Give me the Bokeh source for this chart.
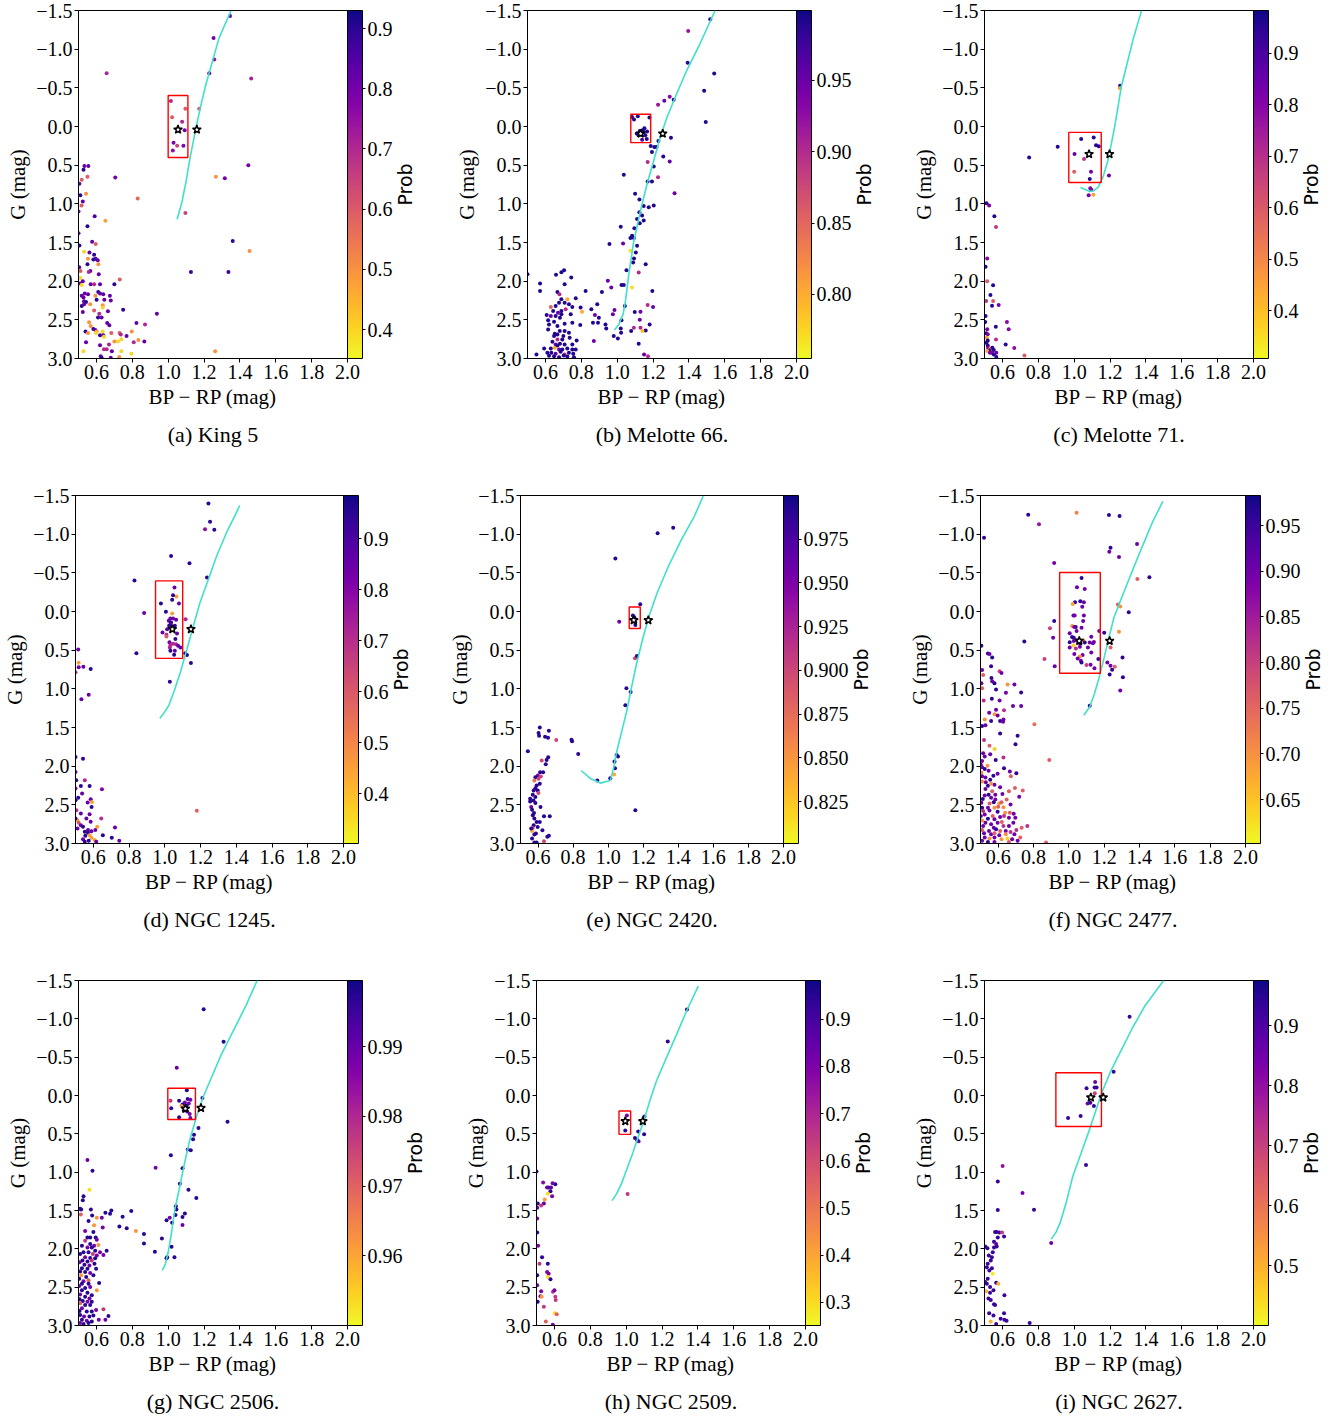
import math
from bokeh.plotting import figure
from bokeh.models import (ColumnDataSource, LinearColorMapper, ColorBar, FixedTicker,
                          PrintfTickFormatter, Range1d, Title)
from bokeh.core.properties import value
from bokeh.layouts import row, column
from bokeh.palettes import Plasma256
from bokeh.transform import transform
from bokeh.embed import file_html
from bokeh.resources import INLINE

# ---------------- data (BP-RP, G, membership probability) ----------------
X_TICKS = [0.6, 0.8, 1.0, 1.2, 1.4, 1.6, 1.8, 2.0]
Y_TICKS = [-1.5, -1.0, -0.5, 0.0, 0.5, 1.0, 1.5, 2.0, 2.5, 3.0]

# (a) King 5
king5_pts = [
    (1.345, -1.43, .80), (1.253, -1.146, .80), (1.257, -0.866, .75), (1.229, -0.69, .80), (0.657, -0.69, .70),
    (1.463, -0.62, .72), (1.015, -0.33, .70), (1.096, -0.23, .60), (1.173, -0.23, .60), (1.022, -0.12, .60),
    (1.078, -0.06, .70), (1.053, 0.02, .50), (1.092, 0.05, .80), (1.03, 0.21, .78), (1.085, 0.25, .78),
    (1.05, 0.25, .65), (1.026, 0.31, .75), (1.447, 0.50, .80), (1.266, 0.65, .50), (1.316, 0.67, .80),
    (0.705, 0.66, .80), (0.83, 0.93, .58), (1.096, 1.12, .65), (1.36, 1.48, .90), (1.454, 1.61, .50),
    (1.127, 1.88, .88), (1.336, 1.88, .88), (0.937, 2.42, .82), (1.262, 2.905, .50),
    (0.533, 0.51, .82), (0.555, 0.51, .82), (0.528, 0.56, .9), (0.55, 0.65, .6), (0.518, 0.69, .6),
    (0.505, 0.74, .82), (0.542, 0.87, .5), (0.51, 0.89, .9), (0.524, 0.97, .82), (0.517, 1.02, .6),
    (0.50, 1.10, .82), (0.59, 1.16, .85), (0.65, 1.22, .48), (0.55, 1.29, .9), (0.50, 1.38, .82),
    (0.576, 1.49, .82), (0.596, 1.52, .6), (0.505, 1.54, .9), (0.561, 1.63, .82), (0.531, 1.62, .4),
    (0.587, 1.66, .9), (0.553, 1.71, .5), (0.596, 1.71, .82), (0.607, 1.73, .82), (0.583, 1.72, .9),
    (0.55, 1.78, .9), (0.611, 1.78, .5), (0.504, 1.82, .82), (0.566, 1.87, .82), (0.557, 1.88, .7),
    (0.511, 1.87, .6), (0.613, 1.91, .82), (0.73, 1.98, .6), (0.509, 1.96, .4), (0.524, 2.0, .82),
    (0.509, 2.03, .82), (0.568, 2.04, .82), (0.587, 2.04, .7), (0.518, 2.05, .4), (0.62, 2.04, .82),
    (0.70, 2.04, .9), (0.61, 2.14, .9), (0.535, 2.16, .82), (0.518, 2.19, .82), (0.553, 2.17, .82),
    (0.594, 2.19, .5), (0.62, 2.16, .82), (0.638, 2.17, .82), (0.675, 2.19, .82), (0.528, 2.21, .82),
    (0.601, 2.24, .9), (0.644, 2.24, .82), (0.68, 2.25, .82), (0.531, 2.26, .82), (0.542, 2.27, .9),
    (0.565, 2.30, .5), (0.518, 2.32, .9), (0.531, 2.30, .82), (0.635, 2.31, .5), (0.635, 2.34, .4),
    (0.749, 2.37, .9), (0.587, 2.38, .6), (0.524, 2.40, .82), (0.664, 2.39, .82), (0.616, 2.42, .7),
    (0.609, 2.47, .9), (0.629, 2.47, .82), (0.559, 2.53, .5), (0.66, 2.54, .82), (0.823, 2.54, .82),
    (0.871, 2.56, .7), (0.672, 2.57, .82), (0.568, 2.58, .5), (0.583, 2.62, .9), (0.594, 2.63, .82),
    (0.601, 2.65, .5), (0.539, 2.65, .9), (0.553, 2.67, .5), (0.598, 2.67, .4), (0.635, 2.65, .4),
    (0.683, 2.67, .6), (0.729, 2.67, .6), (0.736, 2.69, .7), (0.797, 2.65, .5), (0.62, 2.70, .9),
    (0.638, 2.70, .82), (0.768, 2.71, .82), (0.642, 2.72, .4), (0.739, 2.75, .4), (0.834, 2.76, .5),
    (0.867, 2.78, .82), (0.542, 2.79, .82), (0.70, 2.78, .5), (0.72, 2.78, .4), (0.808, 2.79, .7),
    (0.67, 2.82, .7), (0.62, 2.83, .82), (0.657, 2.88, .7), (0.642, 2.88, .7), (0.528, 2.905, .4),
    (0.686, 2.905, .82), (0.739, 2.905, .4), (0.795, 2.94, .4), (0.624, 2.97, .82), (0.727, 2.98, .5),
    (0.68, 2.99, .82), (0.629, 2.99, .9),
]
king5_iso_x = [1.05, 1.078, 1.10, 1.122, 1.155, 1.183, 1.21, 1.247, 1.284, 1.349]
king5_iso_y = [1.20, 0.966, 0.707, 0.405, 0.017, -0.28, -0.54, -0.845, -1.146, -1.49]
king5_box = [1.0, 1.11, -0.40, 0.40]
king5_star_x = [1.055, 1.16]
king5_star_y = [0.04, 0.04]

# (b) Melotte 66
mel66_pts = [
    (1.519, -1.387, .99), (1.396, -1.236, .92), (1.393, -0.825, .99), (1.541, -0.686, .99), (1.485, -0.461, .99),
    (1.293, -0.384, .93), (1.315, -0.345, .99), (1.263, -0.332, .95), (1.228, -0.28, .92), (1.494, -0.059, .99),
    (1.083, -0.124, .99), (1.094, -0.089, .99), (1.115, -0.133, .99), (1.18, -0.115, .99), (1.152, 0.023, .99),
    (1.141, 0.049, .99), (1.109, 0.092, .99), (1.119, 0.114, .99), (1.167, 0.066, .99), (1.157, 0.114, .99),
    (1.139, 0.17, .97), (1.165, 0.162, .99), (1.148, 0.07, .99), (1.126, 0.058, .99),
    (1.30, 0.144, .99), (1.187, 0.252, .99), (1.207, 0.265, .99), (1.219, 0.265, .99), (1.23, 0.188, .99),
    (1.194, 0.33, .99), (1.257, 0.387, .99), (1.293, 0.451, .95), (1.17, 0.46, .9), (1.204, 0.516, .99),
    (1.037, 0.625, .99), (1.228, 0.655, .9), (1.17, 0.711, .99), (1.194, 0.711, .99), (1.32, 0.863, .95),
    (1.10, 0.871, .99), (1.124, 0.945, .99), (1.148, 1.027, .99), (1.176, 1.044, .99), (1.204, 1.023, .99),
    (1.124, 1.109, .99), (1.139, 1.152, .99), (1.111, 1.196, .99), (1.148, 1.217, .99), (1.126, 1.252, .99),
    (1.096, 1.317, .99), (1.02, 1.295, .99), (1.083, 1.412, .99), (1.093, 1.442, .99), (1.074, 1.442, .99),
    (1.033, 1.512, .95), (0.957, 1.52, .99), (1.111, 1.542, .99), (1.074, 1.607, .77), (1.104, 1.628, .99),
    (1.094, 1.706, .99), (1.089, 1.758, .99), (1.159, 1.78, .99), (1.052, 1.858, .99), (1.12, 1.888, .9),
    (0.948, 1.996, .95), (1.024, 2.048, .99), (1.037, 2.048, .99), (0.967, 2.083, .95), (1.083, 2.083, .77),
    (1.196, 2.126, .99), (0.915, 2.139, .99), (0.824, 2.126, .99), (0.889, 2.30, .99), (1.043, 2.321, .99),
    (1.17, 2.308, .9), (1.20, 2.334, .95), (0.985, 2.373, .95), (1.098, 2.399, .99), (0.976, 2.429, .95),
    (1.13, 2.394, .95), (0.856, 2.364, .99), (0.876, 2.437, .95), (0.898, 2.472, .99), (0.935, 2.559, .99),
    (0.865, 2.537, .99), (0.893, 2.537, .99), (0.794, 2.567, .99), (1.024, 2.507, .99), (1.126, 2.498, .95),
    (1.181, 2.559, .99), (1.093, 2.602, .9), (1.13, 2.602, .9), (1.02, 2.611, .99), (1.159, 2.637, .99),
    (1.141, 2.645, .79), (1.078, 2.645, .99), (0.939, 2.611, .99), (1.022, 2.667, .99), (0.981, 2.71, .99),
    (1.004, 2.74, .99), (0.870, 2.775, .95), (1.12, 2.81, .99), (1.15, 2.948, .95), (1.172, 2.97, .9),
    (0.5, 1.91, .99), (0.57, 2.03, .99), (0.57, 2.126, .99),
    (0.704, 1.858, .99), (0.689, 1.884, .99), (0.744, 1.953, .99), (0.659, 1.918, .99), (0.707, 2.04, .99),
    (0.667, 2.139, .99), (0.678, 2.169, .9), (0.689, 2.234, .99), (0.676, 2.278, .99), (0.722, 2.234, .8),
    (0.769, 2.221, .99), (0.707, 2.278, .99), (0.731, 2.30, .99), (0.75, 2.334, .99), (0.796, 2.342, .99),
    (0.804, 2.394, .8), (0.63, 2.334, .85), (0.657, 2.321, .99), (0.643, 2.386, .99), (0.67, 2.407, .95),
    (0.689, 2.386, .99), (0.713, 2.364, .9), (0.741, 2.429, .99), (0.607, 2.437, .99), (0.63, 2.45, .95),
    (0.657, 2.45, .99), (0.689, 2.429, .99), (0.681, 2.472, .99), (0.615, 2.507, .99), (0.648, 2.524, .99),
    (0.62, 2.559, .99), (0.615, 2.624, .99), (0.667, 2.58, .99), (0.707, 2.55, .99), (0.75, 2.537, .99),
    (0.68, 2.645, .99), (0.707, 2.645, .99), (0.731, 2.667, .99), (0.667, 2.689, .99), (0.648, 2.71, .99),
    (0.70, 2.71, .99), (0.667, 2.753, .9), (0.694, 2.753, .99), (0.735, 2.732, .99), (0.774, 2.766, .99),
    (0.639, 2.784, .99), (0.657, 2.818, .95), (0.681, 2.81, .99), (0.707, 2.818, .99), (0.75, 2.818, .99),
    (0.593, 2.87, .99), (0.63, 2.87, .99), (0.652, 2.862, .8), (0.676, 2.883, .95), (0.694, 2.883, .99),
    (0.722, 2.87, .99), (0.75, 2.883, .99), (0.611, 2.926, .99), (0.633, 2.926, .99), (0.657, 2.939, .95),
    (0.685, 2.913, .99), (0.707, 2.948, .9), (0.731, 2.926, .99), (0.755, 2.939, .99), (0.55, 2.948, .99),
    (0.648, 2.97, .99), (0.722, 2.974, .99), (0.759, 2.983, .99), (0.676, 2.983, .99), (0.62, 2.965, .99),
    (0.702, 2.96, .99), (0.667, 2.831, .99), (0.769, 2.883, .99), (0.652, 2.68, .99),
]
mel66_iso_x = [0.985, 1.009, 1.033, 1.046, 1.065, 1.093, 1.13, 1.167, 1.204, 1.24, 1.278, 1.333, 1.389, 1.463, 1.546]
mel66_iso_y = [2.63, 2.56, 2.43, 2.26, 1.91, 1.48, 1.09, 0.74, 0.44, 0.14, -0.12, -0.43, -0.73, -1.076, -1.5]
mel66_box = [1.076, 1.187, -0.159, 0.209]
mel66_star_x = [1.131, 1.254]
mel66_star_y = [0.092, 0.092]

# (c) Melotte 71
mel71_pts = [
    (1.256, -0.528, .95), (1.255, -0.494, .45), (1.039, 0.162, .95), (1.109, 0.141, .95), (1.122, 0.244, .95),
    (1.137, 0.257, .95), (0.908, 0.262, .95), (1.002, 0.357, .85), (0.749, 0.40, .95), (1.055, 0.421, .68),
    (1.0, 0.585, .58), (1.094, 0.585, .82), (1.194, 0.633, .85), (1.087, 0.68, .95), (1.09, 0.797, .82),
    (1.096, 0.819, .8), (1.081, 0.888, .82), (1.107, 0.883, .45),
    (0.511, 0.991, .95), (0.526, 1.022, .82), (0.555, 1.16, .95), (0.564, 1.298, .68), (0.515, 1.708, .8),
    (0.506, 1.812, .95), (0.515, 2.0, .6), (0.548, 2.054, .95), (0.533, 2.179, .95), (0.509, 2.256, .7),
    (0.548, 2.256, .6), (0.579, 2.308, .82), (0.542, 2.317, .95), (0.506, 2.451, .95), (0.625, 2.529, .8),
    (0.504, 2.529, .95), (0.563, 2.589, .95), (0.635, 2.623, .8), (0.515, 2.623, .82), (0.509, 2.675, .95),
    (0.518, 2.688, .82), (0.513, 2.731, .45), (0.564, 2.753, .7), (0.518, 2.766, .95), (0.511, 2.796, .95),
    (0.618, 2.818, .95), (0.518, 2.831, .95), (0.666, 2.865, .78), (0.52, 2.861, .82), (0.533, 2.87, .45),
    (0.544, 2.861, .95), (0.528, 2.896, .95), (0.515, 2.904, .45), (0.552, 2.891, .95), (0.541, 2.926, .82),
    (0.566, 2.926, .82), (0.552, 2.948, .95), (0.53, 2.926, .82), (0.723, 2.96, .6), (0.566, 2.982, .95),
]
mel71_iso_x = [1.035, 1.087, 1.109, 1.133, 1.16, 1.188, 1.207, 1.225, 1.244, 1.262, 1.29, 1.327, 1.354, 1.376]
mel71_iso_y = [0.788, 0.84, 0.83, 0.788, 0.659, 0.443, 0.227, 0.011, -0.248, -0.507, -0.766, -1.111, -1.327, -1.5]
mel71_box = [0.97, 1.151, 0.076, 0.724]
mel71_star_x = [1.083, 1.197]
mel71_star_y = [0.357, 0.357]

# (d) NGC 1245
n1245_pts = [
    (1.244, -1.397, .95), (1.253, -1.16, .95), (1.225, -1.062, .78), (1.277, -1.057, .95), (1.035, -0.718, .95),
    (1.138, -0.623, .95), (0.83, -0.40, .95), (1.236, -0.439, .95), (1.054, -0.31, .85), (1.065, -0.194, .45),
    (1.046, -0.211, .95), (1.041, -0.151, .95), (0.978, -0.103, .95), (1.079, -0.103, .85), (1.006, 0.004, .95),
    (1.041, 0.026, .45), (0.884, 0.021, .85), (1.031, 0.09, .85), (1.046, 0.09, .85), (1.116, 0.099, .72),
    (1.022, 0.12, .85), (1.035, 0.142, .95), (1.031, 0.167, .85), (1.063, 0.107, .85), (1.024, 0.185, .95),
    (1.056, 0.185, .95), (1.013, 0.228, .85), (0.987, 0.271, .85), (1.009, 0.301, .72), (1.068, 0.284, .85),
    (1.009, 0.322, .6), (1.059, 0.356, .95), (1.026, 0.399, .85), (1.031, 0.434, .72), (1.046, 0.417, .72),
    (1.063, 0.425, .72), (1.074, 0.442, .85), (1.087, 0.464, .85), (1.028, 0.464, .72), (1.031, 0.507, .95),
    (1.056, 0.507, .85), (1.052, 0.559, .95), (1.114, 0.541, .95), (1.124, 0.563, .95), (0.841, 0.541, .95),
    (1.146, 0.666, .95), (1.028, 0.907, .95), (1.179, 2.578, .58),
    (0.515, 0.49, .85), (0.518, 0.662, .45), (0.5, 0.786, .7), (0.518, 0.722, .85), (0.544, 0.713, .85),
    (0.585, 0.743, .95), (0.533, 1.134, .85), (0.574, 1.078, .85), (0.542, 1.904, .95), (0.5, 1.882, .95),
    (0.5, 2.075, .85), (0.504, 2.183, .95), (0.552, 2.183, .72), (0.5, 2.29, .85), (0.53, 2.256, .95),
    (0.579, 2.256, .95), (0.648, 2.299, .8), (0.537, 2.355, .85), (0.515, 2.41, .95), (0.585, 2.428, .85),
    (0.592, 2.462, .45), (0.568, 2.471, .85), (0.5, 2.441, .95), (0.505, 2.57, .7), (0.53, 2.613, .85),
    (0.579, 2.621, .85), (0.59, 2.527, .95), (0.561, 2.677, .85), (0.644, 2.677, .7), (0.585, 2.72, .85),
    (0.511, 2.699, .45), (0.518, 2.733, .6), (0.53, 2.763, .85), (0.542, 2.785, .95), (0.622, 2.785, .45),
    (0.511, 2.806, .85), (0.721, 2.793, .85), (0.57, 2.827, .85), (0.552, 2.849, .95), (0.57, 2.862, .95),
    (0.589, 2.84, .85), (0.611, 2.827, .85), (0.555, 2.9, .95), (0.579, 2.892, .45), (0.653, 2.892, .95),
    (0.703, 2.926, .95), (0.589, 2.926, .45), (0.542, 2.944, .85), (0.607, 2.956, .45), (0.745, 2.965, .85),
    (0.574, 2.965, .95), (0.616, 2.978, .85), (0.552, 2.978, .95), (0.5, 2.677, .95),
]
n1245_iso_x = [0.972, 0.998, 1.022, 1.05, 1.087, 1.124, 1.16, 1.197, 1.244, 1.29, 1.345, 1.391, 1.419]
n1245_iso_y = [1.379, 1.302, 1.216, 1.044, 0.786, 0.485, 0.185, -0.116, -0.417, -0.718, -1.019, -1.234, -1.371]
n1245_box = [0.948, 1.10, -0.396, 0.606]
n1245_star_x = [1.042, 1.146]
n1245_star_y = [0.228, 0.228]

# (e) NGC 2420
n2420_pts = [
    (1.371, -1.084, .99), (1.282, -1.011, .99), (1.041, -0.685, .99), (1.183, -0.093, .99), (1.141, 0.053, .99),
    (1.149, 0.074, .99), (1.154, 0.139, .99), (1.155, 0.173, .99), (1.063, 0.134, .955), (1.153, 0.606, .9),
    (1.164, 0.576, .99), (1.104, 0.993, .99), (1.128, 1.04, .99), (1.098, 1.211, .99), (1.048, 1.855, .99),
    (1.056, 1.876, .99), (1.036, 1.941, .99), (1.039, 2.026, .99), (1.034, 2.108, .84), (1.012, 2.155, .99),
    (0.938, 2.185, .99), (1.155, 2.571, .99), (0.61, 1.499, .99), (0.603, 1.572, .99), (0.606, 1.606, .99),
    (0.662, 1.542, .99), (0.64, 1.619, .99), (0.657, 1.632, .99), (0.704, 1.662, .9), (0.791, 1.657, .99),
    (0.794, 1.679, .99), (0.542, 1.808, .99), (0.829, 1.842, .99), (0.658, 1.885, .99), (0.649, 1.919, .99),
    (0.621, 1.928, .9), (0.644, 1.975, .99),
    (0.612, 2.078, .99), (0.629, 2.078, .99), (0.599, 2.121, .955), (0.616, 2.134, .9), (0.585, 2.142, .99),
    (0.603, 2.164, .9), (0.579, 2.185, .87), (0.61, 2.228, .99), (0.592, 2.249, .99), (0.585, 2.284, .99),
    (0.575, 2.314, .99), (0.598, 2.314, .99), (0.602, 2.348, .9), (0.57, 2.37, .99), (0.585, 2.40, .99),
    (0.555, 2.421, .99), (0.574, 2.443, .99), (0.555, 2.456, .99), (0.585, 2.477, .99), (0.561, 2.528, .955),
    (0.614, 2.528, .99), (0.566, 2.563, .99), (0.577, 2.606, .99), (0.57, 2.636, .99), (0.634, 2.648, .99),
    (0.667, 2.648, .99), (0.579, 2.678, .99), (0.592, 2.721, .99), (0.61, 2.721, .99), (0.575, 2.764, .99),
    (0.57, 2.798, .9), (0.598, 2.786, .99), (0.625, 2.829, .99), (0.566, 2.837, .84), (0.579, 2.884, .99),
    (0.588, 2.871, .99), (0.653, 2.914, .99), (0.662, 2.901, .99), (0.566, 2.936, .99), (0.634, 2.97, .9),
    (0.579, 2.987, .99), (0.592, 2.987, .99), (0.561, 2.807, .99),
]
n2420_iso_x = [0.846, 0.901, 0.956, 1.012, 1.03, 1.048, 1.076, 1.104, 1.131, 1.159, 1.196, 1.233, 1.279, 1.343, 1.417, 1.49, 1.542]
n2420_iso_y = [2.056, 2.164, 2.219, 2.185, 2.035, 1.82, 1.563, 1.306, 1.005, 0.705, 0.362, 0.062, -0.239, -0.582, -0.925, -1.225, -1.491]
n2420_box = [1.12, 1.183, -0.059, 0.22]
n2420_star_x = [1.146, 1.229]
n2420_star_y = [0.113, 0.113]

# (f) NGC 2477
n2477_pts = [
    (0.77, -1.252, .96), (1.044, -1.278, .72), (1.227, -1.248, .96), (1.287, -1.235, .96), (0.831, -1.128, .86),
    (0.52, -0.953, .96), (1.386, -0.872, .9), (1.236, -0.825, .96), (1.229, -0.774, .9), (1.284, -0.705, .9),
    (0.917, -0.628, .9), (1.456, -0.444, .96), (1.388, -0.419, .76), (1.072, -0.432, .96), (1.046, -0.312, .9),
    (1.09, -0.291, .9), (1.035, -0.12, .96), (1.065, -0.132, .96), (1.022, -0.098, .68), (1.085, -0.12, .9),
    (1.076, -0.06, .9), (1.278, -0.09, .76), (1.291, -0.064, .7), (1.339, 0.009, .96), (1.026, 0.051, .9),
    (1.033, 0.051, .9), (1.085, 0.051, .9), (0.917, 0.124, .96), (1.081, 0.124, .9), (1.019, 0.188, .7),
    (1.039, 0.201, .96), (1.031, 0.201, .9), (1.072, 0.209, .9), (0.893, 0.218, .8), (1.044, 0.252, .9),
    (1.172, 0.252, .9), (1.2, 0.274, .96), (1.284, 0.261, .7), (1.005, 0.282, .9), (0.911, 0.338, .9),
    (1.018, 0.329, .96), (1.028, 0.338, .96), (1.127, 0.325, .9), (0.748, 0.389, .96), (1.005, 0.397, .96),
    (1.028, 0.38, .9), (1.044, 0.372, .9), (1.081, 0.372, .7), (1.09, 0.402, .96), (1.118, 0.402, .9),
    (1.136, 0.41, .9), (1.142, 0.393, .9), (1.063, 0.41, .96), (1.026, 0.44, .64), (1.005, 0.466, .9),
    (1.04, 0.479, .82), (1.063, 0.457, .9), (1.108, 0.466, .9), (1.236, 0.466, .76), (1.031, 0.551, .9),
    (1.078, 0.564, .9), (1.127, 0.53, .9), (1.063, 0.581, .7), (1.304, 0.594, .96), (0.862, 0.615, .8),
    (1.05, 0.607, .9), (1.068, 0.637, .9), (1.167, 0.615, .96), (1.218, 0.658, .9), (1.072, 0.658, .96),
    (0.92, 0.709, .9), (1.123, 0.688, .9), (1.1, 0.692, .8), (1.145, 0.735, .9), (1.236, 0.701, .9),
    (1.26, 0.714, .76), (1.245, 0.752, .96), (1.231, 0.816, .96), (1.306, 0.85, .96), (1.291, 1.021, .9),
    (1.118, 1.218, .96), (0.805, 1.457, .74), (0.889, 1.919, .76),
    (0.505, 0.444, .96), (0.542, 0.543, .96), (0.551, 0.551, .9), (0.566, 0.594, .96), (0.509, 0.756, .9),
    (0.56, 0.709, .96), (0.608, 0.773, .8), (0.619, 0.795, .9), (0.515, 0.821, .76), (0.562, 0.859, .96),
    (0.566, 0.902, .9), (0.505, 0.927, .9), (0.653, 0.944, .7), (0.692, 0.944, .9), (0.579, 0.927, .96),
    (0.509, 0.991, .76), (0.588, 1.008, .96), (0.73, 1.047, .96), (0.644, 1.051, .9), (0.518, 1.15, .82),
    (0.564, 1.128, .96), (0.608, 1.15, .9), (0.684, 1.222, .9), (0.73, 1.222, .9), (0.588, 1.269, .9),
    (0.633, 1.278, .82), (0.549, 1.308, .9), (0.58, 1.329, .7), (0.597, 1.346, .9), (0.63, 1.397, .9),
    (0.524, 1.397, .7), (0.56, 1.415, .96), (0.611, 1.415, .96), (0.628, 1.427, .9), (0.509, 1.479, .96),
    (0.528, 1.47, .9), (0.611, 1.577, .96), (0.71, 1.607, .96), (0.52, 1.662, .82), (0.698, 1.718, .96),
    (0.551, 1.735, .76), (0.58, 1.778, .64), (0.515, 1.833, .9), (0.555, 1.846, .9), (0.524, 1.876, .9),
    (0.63, 1.889, .82), (0.509, 1.932, .9), (0.586, 1.919, .96), (0.502, 1.983, .9), (0.54, 1.996, .7),
    (0.509, 2.013, .9), (0.524, 2.038, .96), (0.633, 2.026, .96), (0.546, 2.06, .9), (0.505, 2.081, .7),
    (0.666, 2.068, .9), (0.703, 2.09, .96), (0.597, 2.098, .9), (0.573, 2.124, .96), (0.672, 2.132, .76),
    (0.509, 2.132, .9), (0.528, 2.145, .9), (0.555, 2.175, .96), (0.53, 2.209, .9), (0.509, 2.197, .7),
    (0.579, 2.239, .9), (0.542, 2.252, .96), (0.56, 2.226, .7), (0.611, 2.274, .9), (0.695, 2.282, .76),
    (0.528, 2.295, .9), (0.566, 2.325, .76), (0.661, 2.325, .76), (0.739, 2.316, .76), (0.584, 2.368, .9),
    (0.524, 2.38, .9), (0.546, 2.368, .96), (0.624, 2.359, .9), (0.513, 2.423, .96), (0.56, 2.41, .9),
    (0.584, 2.432, .9), (0.648, 2.432, .76), (0.719, 2.397, .9), (0.505, 2.474, .9), (0.551, 2.483, .76),
    (0.575, 2.466, .96), (0.606, 2.483, .7), (0.619, 2.466, .76), (0.509, 2.538, .96), (0.542, 2.538, .9),
    (0.579, 2.538, .7), (0.6, 2.526, .76), (0.63, 2.53, .7), (0.67, 2.496, .9), (0.515, 2.581, .82),
    (0.551, 2.573, .9), (0.597, 2.59, .96), (0.639, 2.603, .7), (0.666, 2.603, .76), (0.688, 2.615, .9),
    (0.524, 2.624, .9), (0.502, 2.645, .9), (0.569, 2.645, .76), (0.611, 2.658, .9), (0.633, 2.645, .82),
    (0.542, 2.679, .96), (0.579, 2.688, .9), (0.661, 2.667, .9), (0.697, 2.667, .9), (0.509, 2.701, .7),
    (0.528, 2.731, .9), (0.597, 2.731, .9), (0.621, 2.722, .76), (0.686, 2.731, .9), (0.56, 2.752, .9),
    (0.515, 2.774, .9), (0.575, 2.795, .9), (0.63, 2.774, .82), (0.661, 2.774, .9), (0.733, 2.795, .76),
    (0.765, 2.774, .82), (0.509, 2.825, .76), (0.548, 2.838, .9), (0.588, 2.816, .96), (0.611, 2.838, .76),
    (0.643, 2.838, .9), (0.67, 2.85, .82), (0.703, 2.825, .82), (0.52, 2.868, .9), (0.56, 2.88, .9),
    (0.579, 2.868, .76), (0.606, 2.894, .9), (0.643, 2.88, .7), (0.692, 2.88, .9), (0.725, 2.923, .76),
    (0.524, 2.923, .9), (0.551, 2.936, .7), (0.579, 2.923, .9), (0.619, 2.944, .7), (0.652, 2.936, .64),
    (0.509, 2.966, .9), (0.542, 2.979, .96), (0.579, 2.979, .9), (0.661, 2.979, .76), (0.679, 2.944, .9),
    (0.71, 2.966, .9), (0.871, 2.987, .76),
]
n2477_iso_x = [1.085, 1.118, 1.145, 1.172, 1.2, 1.227, 1.255, 1.291, 1.328, 1.373, 1.419, 1.474, 1.532]
n2477_iso_y = [1.342, 1.235, 1.064, 0.85, 0.594, 0.338, 0.081, -0.132, -0.346, -0.603, -0.859, -1.158, -1.423]
n2477_box = [0.948, 1.178, -0.504, 0.799]
n2477_star_x = [1.059, 1.231]
n2477_star_y = [0.38, 0.38]

# (g) NGC 2506
n2506_pts = [
    (1.198, -1.126, .997), (1.309, -0.701, .997), (1.048, -0.361, .99), (1.104, -0.069, .997), (1.109, 0.047, .997),
    (1.124, 0.056, .988), (1.013, 0.069, .977), (1.061, 0.069, .997), (1.093, 0.09, .988), (1.115, 0.103, .988),
    (1.08, 0.116, .997), (1.074, 0.137, .962), (1.102, 0.133, .997), (1.017, 0.167, .997), (1.087, 0.197, .988),
    (1.106, 0.21, .988), (1.12, 0.24, .988), (1.061, 0.283, .997), (1.124, 0.292, .988), (1.191, 0.034, .997),
    (1.331, 0.344, .997), (1.169, 0.425, .997), (1.144, 0.511, .997), (1.139, 0.571, .997), (1.109, 0.705, .99),
    (1.126, 0.713, .997), (1.015, 0.778, .997), (0.93, 0.941, .988), (1.08, 0.95, .997), (1.065, 1.152, .997),
    (1.113, 1.229, .997), (1.157, 1.336, .997), (1.043, 1.444, .997), (1.046, 1.487, .997), (1.093, 1.538, .997),
    (1.041, 1.56, .997), (0.991, 1.628, .997), (1.009, 1.594, .988), (1.022, 1.659, .997), (1.08, 1.586, .997),
    (1.08, 1.689, .99), (0.965, 1.865, .997), (0.865, 1.805, .997), (0.865, 1.929, .997), (1.019, 1.972, .997),
    (1.035, 2.11, .997), (0.926, 2.037, .997), (0.994, 2.11, .997), (0.991, 2.123, .997), (0.82, 1.766, .962),
    (0.769, 1.732, .997), (0.728, 1.71, .997), (0.794, 1.508, .997), (0.746, 1.581, .997), (0.683, 1.50, .997),
    (0.676, 1.543, .997), (0.65, 1.53, .997), (0.63, 1.594, .988), (0.602, 1.594, .962), (0.569, 1.487, .997),
    (0.576, 1.564, .997), (0.515, 1.487, .997), (0.524, 1.366, .997), (0.528, 1.315, .997), (0.509, 1.478, .997),
    (0.55, 0.842, .99), (0.578, 0.98, .997), (0.561, 1.229, .953), (0.587, 1.693, .962), (0.635, 1.723, .988),
    (0.556, 1.637, .997), (0.513, 1.551, .97),
    (0.537, 1.766, .988), (0.583, 1.779, .997), (0.55, 1.852, .997), (0.565, 1.852, .997), (0.596, 1.852, .997),
    (0.602, 1.882, .988), (0.537, 1.895, .977), (0.565, 1.938, .997), (0.587, 1.959, .988), (0.519, 1.959, .997),
    (0.611, 1.951, .962), (0.55, 1.981, .988), (0.574, 1.981, .997), (0.657, 2.024, .997), (0.593, 2.024, .997),
    (0.528, 2.045, .997), (0.556, 2.045, .997), (0.62, 2.045, .988), (0.509, 2.067, .997), (0.58, 2.067, .977),
    (0.602, 2.088, .988), (0.639, 2.08, .988), (0.537, 2.11, .988), (0.565, 2.118, .997), (0.593, 2.123, .997),
    (0.522, 2.153, .997), (0.55, 2.166, .997), (0.574, 2.153, .977), (0.506, 2.174, .988), (0.589, 2.196, .997),
    (0.533, 2.209, .997), (0.561, 2.217, .988), (0.519, 2.252, .997), (0.55, 2.26, .997), (0.598, 2.26, .997),
    (0.509, 2.295, .997), (0.537, 2.303, .997), (0.565, 2.316, .988), (0.515, 2.346, .962), (0.543, 2.368, .997),
    (0.583, 2.346, .997), (0.504, 2.389, .997), (0.528, 2.424, .988), (0.556, 2.411, .97), (0.519, 2.454, .997),
    (0.556, 2.454, .997), (0.615, 2.445, .997), (0.504, 2.484, .988), (0.537, 2.51, .997), (0.565, 2.497, .988),
    (0.602, 2.54, .962), (0.519, 2.54, .997), (0.55, 2.574, .997), (0.509, 2.596, .988), (0.574, 2.604, .997),
    (0.537, 2.626, .997), (0.561, 2.647, .988), (0.506, 2.656, .997), (0.524, 2.682, .997), (0.55, 2.69, .988),
    (0.574, 2.69, .997), (0.509, 2.711, .97), (0.537, 2.733, .997), (0.565, 2.733, .997), (0.639, 2.789, .977),
    (0.519, 2.776, .988), (0.598, 2.797, .988), (0.506, 2.81, .997), (0.546, 2.819, .997), (0.574, 2.819, .997),
    (0.667, 2.875, .997), (0.509, 2.862, .997), (0.531, 2.883, .988), (0.561, 2.883, .997), (0.583, 2.87, .997),
    (0.613, 2.926, .988), (0.65, 2.926, .988), (0.519, 2.926, .997), (0.546, 2.939, .988), (0.574, 2.948, .997),
    (0.528, 2.982, .997), (0.556, 2.969, .997), (0.509, 2.969, .988),
]
n2506_iso_x = [0.967, 0.985, 1.0, 1.019, 1.037, 1.061, 1.087, 1.12, 1.157, 1.194, 1.241, 1.296, 1.361, 1.435, 1.496]
n2506_iso_y = [2.282, 2.196, 2.045, 1.787, 1.487, 1.229, 0.928, 0.584, 0.283, 0.026, -0.232, -0.533, -0.834, -1.178, -1.5]
n2506_box = [0.998, 1.152, -0.095, 0.314]
n2506_star_x = [1.096, 1.183]
n2506_star_y = [0.172, 0.163]

# (h) NGC 2509
n2509_pts = [
    (1.339, -1.122, .94), (1.232, -0.705, .94), (1.004, 0.262, .8), (0.995, 0.455, .94), (1.102, 0.275, .94),
    (1.067, 0.468, .94), (1.049, 0.554, .94), (1.062, 0.584, .94), (1.069, 0.597, .85), (1.1, 0.507, .94),
    (1.008, 1.285, .65),
    (0.5, 0.992, .94), (0.537, 1.134, .78), (0.568, 1.199, .94), (0.559, 1.199, .85), (0.581, 1.199, .85),
    (0.59, 1.143, .8), (0.605, 1.156, .94), (0.578, 1.25, .94), (0.563, 1.28, .3), (0.587, 1.315, .8),
    (0.546, 1.358, .42), (0.541, 1.409, .85), (0.526, 1.435, .65), (0.504, 1.465, .85), (0.507, 1.409, .94),
    (0.504, 1.603, .8), (0.504, 1.788, .94), (0.509, 1.959, .8), (0.531, 2.11, .94), (0.517, 2.196, .65),
    (0.563, 2.196, .94), (0.559, 2.303, .8), (0.568, 2.325, .8), (0.563, 2.368, .3), (0.578, 2.398, .94),
    (0.504, 2.346, .94), (0.504, 2.475, .8), (0.592, 2.561, .68), (0.526, 2.552, .8), (0.6, 2.539, .8),
    (0.522, 2.617, .8), (0.529, 2.626, .42), (0.605, 2.626, .65), (0.607, 2.668, .65), (0.507, 2.69, .94),
    (0.541, 2.754, .65), (0.602, 2.84, .3), (0.613, 2.853, .55), (0.552, 2.948, .55), (0.591, 2.991, .8),
]
n2509_iso_x = [0.921, 0.947, 0.975, 1.002, 1.036, 1.067, 1.099, 1.132, 1.169, 1.224, 1.28, 1.335, 1.402]
n2509_iso_y = [1.371, 1.28, 1.143, 0.971, 0.756, 0.541, 0.326, 0.069, -0.189, -0.49, -0.791, -1.092, -1.427]
n2509_box = [0.96, 1.025, 0.202, 0.507]
n2509_star_x = [0.995, 1.093]
n2509_star_y = [0.335, 0.335]

# (i) NGC 2627
n2627_pts = [
    (1.309, -1.027, .93), (1.22, -0.31, .93), (1.117, -0.176, .85), (1.069, -0.095, .93), (1.114, -0.103, .93),
    (1.125, -0.103, .93), (1.115, -0.03, .7), (1.09, 0.026, .93), (1.075, 0.103, .85), (1.09, 0.094, .93),
    (1.11, 0.137, .93), (1.036, 0.266, .93), (0.966, 0.292, .93), (1.066, 0.907, .93), (0.872, 1.925, .85),
    (0.712, 1.272, .85), (0.776, 1.491, .93),
    (0.601, 0.919, .8), (0.574, 1.121, .93), (0.574, 1.495, .93), (0.559, 1.779, .93), (0.568, 1.779, .93),
    (0.583, 1.788, .93), (0.598, 1.788, .7), (0.609, 1.839, .93), (0.574, 1.852, .93), (0.553, 1.908, .93),
    (0.565, 1.938, .85), (0.553, 1.981, .93), (0.568, 1.968, .93), (0.504, 1.968, .93), (0.516, 1.994, .93),
    (0.546, 2.045, .93), (0.524, 2.088, .93), (0.541, 2.11, .93), (0.535, 2.153, .93), (0.518, 2.196, .93),
    (0.541, 2.252, .93), (0.513, 2.239, .93), (0.527, 2.282, .93), (0.546, 2.325, .42), (0.518, 2.389, .93),
    (0.504, 2.432, .93), (0.513, 2.454, .93), (0.565, 2.441, .93), (0.577, 2.454, .5), (0.531, 2.497, .93),
    (0.55, 2.54, .93), (0.509, 2.553, .5), (0.531, 2.574, .93), (0.611, 2.604, .93), (0.522, 2.647, .93),
    (0.535, 2.668, .93), (0.553, 2.724, .93), (0.559, 2.733, .93), (0.526, 2.84, .93), (0.55, 2.87, .93),
    (0.609, 2.84, .93), (0.59, 2.913, .93), (0.611, 2.926, .93), (0.623, 2.939, .93), (0.535, 2.948, .5),
    (0.565, 2.982, .93), (0.752, 2.969, .93),
]
n2627_iso_x = [0.872, 0.9, 0.922, 0.955, 0.992, 1.038, 1.084, 1.121, 1.158, 1.204, 1.259, 1.324, 1.397, 1.499]
n2627_iso_y = [1.873, 1.779, 1.659, 1.401, 1.057, 0.756, 0.455, 0.197, -0.06, -0.318, -0.576, -0.877, -1.178, -1.5]
n2627_box = [0.898, 1.152, -0.297, 0.404]
n2627_star_x = [1.093, 1.162]
n2627_star_y = [0.026, 0.026]

# captions and colour-bar settings
captions = ["(a) King 5", "(b) Melotte 66.", "(c) Melotte 71.", "(d) NGC 1245.", "(e) NGC 2420.",
            "(f) NGC 2477.", "(g) NGC 2506.", "(h) NGC 2509.", "(i) NGC 2627."]
cb_title = "Prob"
cb_lows = [0.352, 0.755, 0.307, 0.302, 0.801, 0.602, 0.950, 0.251, 0.401]
cb_highs = [0.930, 0.999, 0.983, 0.985, 1.000, 0.983, 0.9995, 0.982, 0.975]
cb_ticks = [
    [0.4, 0.5, 0.6, 0.7, 0.8, 0.9],
    [0.80, 0.85, 0.90, 0.95],
    [0.4, 0.5, 0.6, 0.7, 0.8, 0.9],
    [0.4, 0.5, 0.6, 0.7, 0.8, 0.9],
    [0.825, 0.850, 0.875, 0.900, 0.925, 0.950, 0.975],
    [0.65, 0.70, 0.75, 0.80, 0.85, 0.90, 0.95],
    [0.96, 0.97, 0.98, 0.99],
    [0.3, 0.4, 0.5, 0.6, 0.7, 0.8, 0.9],
    [0.5, 0.6, 0.7, 0.8, 0.9],
]
cb_formats = ["%.1f", "%.2f", "%.1f", "%.1f", "%.3f", "%.2f", "%.2f", "%.1f", "%.1f"]

# ---------------- layout / style ----------------
FRAME_W, FRAME_H, FRAME_TOP = 271, 348, 10
COL_W = [445, 460, 436]
ROW_H = [485, 485, 451]
FRAME_LEFT = [[78, 82, 79], [74, 69, 71], [78, 91, 79]]
# room right of each frame taken by the colour bar and its tick labels (px)
CB_ROOM = [[46, 56, 46], [46, 66, 56], [56, 46, 46]]
# centre of the "Prob" label measured from the frame's right edge (px)
PROB_OFF = [[53, 62, 53], [53, 72, 63], [63, 52, 52]]
SERIF = "Liberation Serif"
PALETTE = list(reversed(Plasma256))
ISO_COLOR = "#40e0c8"


def ylab(v):
    return f"{v:.1f}".replace("-", "\u2212")


def make_panel(pts, iso_x, iso_y, box, sx, sy, k, width, height, left, right):
    xs = [t[0] for t in pts]
    ys = [t[1] for t in pts]
    ps = [t[2] for t in pts]
    p = figure(width=width, height=height, x_range=Range1d(0.5, 2.0), y_range=Range1d(3.0, -1.5),
               output_backend="svg", toolbar_location=None,
               min_border_left=left, min_border_right=right,
               min_border_top=FRAME_TOP, min_border_bottom=height - FRAME_TOP - FRAME_H)
    p.grid.visible = False
    p.outline_line_color = "black"
    p.outline_line_width = 1
    p.background_fill_color = "white"
    p.border_fill_color = "white"

    mapper = LinearColorMapper(palette=PALETTE, low=cb_lows[k], high=cb_highs[k])
    src = ColumnDataSource(dict(x=xs, y=ys, p=ps))
    p.scatter("x", "y", source=src, size=4, marker="circle",
              fill_color=transform("p", mapper), line_color=None)
    p.line(iso_x, iso_y, line_color=ISO_COLOR, line_width=1.6)
    p.quad(left=[box[0]], right=[box[1]], top=[box[2]], bottom=[box[3]],
           fill_color=None, line_color="red", line_width=1.4)
    p.scatter(sx, sy, marker="star", size=9, fill_color="white", line_color="black", line_width=1.5)

    p.xaxis.ticker = FixedTicker(ticks=X_TICKS)
    p.xaxis.major_label_overrides = {t: f"{t:.1f}" for t in X_TICKS}
    p.yaxis.ticker = FixedTicker(ticks=Y_TICKS)
    p.yaxis.major_label_overrides = {t: ylab(t) for t in Y_TICKS}
    p.xaxis.axis_label = "BP \u2212 RP (mag)"
    p.yaxis.axis_label = "G (mag)"
    for ax in (p.xaxis[0], p.yaxis[0]):
        ax.major_tick_in = 0
        ax.major_tick_out = 4
        ax.minor_tick_line_color = None
        ax.major_tick_line_color = "black"
        ax.axis_line_color = "black"
        ax.major_label_text_font = SERIF
        ax.major_label_text_font_size = "20px"
        ax.major_label_text_color = "black"
        ax.major_label_standoff = 2
        ax.axis_label_text_font = SERIF
        ax.axis_label_text_font_size = "21px"
        ax.axis_label_text_font_style = "normal"
        ax.axis_label_text_color = "black"
        ax.axis_label_standoff = 3

    cb = ColorBar(color_mapper=mapper, width=15, location=(0, 0), padding=0, margin=0,
                  ticker=FixedTicker(ticks=cb_ticks[k]),
                  formatter=PrintfTickFormatter(format=cb_formats[k]),
                  major_label_text_font=SERIF, major_label_text_font_size="20px",
                  major_label_text_color="black",
                  major_tick_in=0, major_tick_out=3, major_tick_line_color="black",
                  minor_tick_line_color=None, label_standoff=2,
                  bar_line_color="black", border_line_color=None,
                  background_fill_color=None)
    p.add_layout(cb, "right")

    p.add_layout(Title(text=captions[k], align="center", text_font=SERIF, text_font_size="22px",
                       text_font_style="normal", text_color="black", standoff=16), "below")
    return p


def make_prob_strip(width, height, text_x):
    # narrow strip beside the colour bar carrying the upward-reading "Prob" label;
    # the row layout aligns its frame with the neighbouring panel's frame
    s = figure(width=width, height=height, x_range=Range1d(0, width), y_range=Range1d(0, 1),
               output_backend="svg", toolbar_location=None, x_axis_type=None, y_axis_type=None,
               min_border_left=0, min_border_right=0, min_border_top=0, min_border_bottom=0)
    s.outline_line_color = None
    s.grid.visible = False
    s.background_fill_color = "white"
    s.border_fill_color = "white"
    s.text(x=[text_x], y=[0.5], text=[cb_title], angle=math.pi / 2,
           text_align="center", text_baseline="middle", text_font=value("DejaVu Sans"),
           text_font_size="19px", text_color="black")
    return s


panel_data = [
    (king5_pts, king5_iso_x, king5_iso_y, king5_box, king5_star_x, king5_star_y),
    (mel66_pts, mel66_iso_x, mel66_iso_y, mel66_box, mel66_star_x, mel66_star_y),
    (mel71_pts, mel71_iso_x, mel71_iso_y, mel71_box, mel71_star_x, mel71_star_y),
    (n1245_pts, n1245_iso_x, n1245_iso_y, n1245_box, n1245_star_x, n1245_star_y),
    (n2420_pts, n2420_iso_x, n2420_iso_y, n2420_box, n2420_star_x, n2420_star_y),
    (n2477_pts, n2477_iso_x, n2477_iso_y, n2477_box, n2477_star_x, n2477_star_y),
    (n2506_pts, n2506_iso_x, n2506_iso_y, n2506_box, n2506_star_x, n2506_star_y),
    (n2509_pts, n2509_iso_x, n2509_iso_y, n2509_box, n2509_star_x, n2509_star_y),
    (n2627_pts, n2627_iso_x, n2627_iso_y, n2627_box, n2627_star_x, n2627_star_y),
]

rows = []
for r in range(3):
    figs = []
    for c in range(3):
        k = r * 3 + c
        pts, ix, iy, bx, sx, sy = panel_data[k]
        left = FRAME_LEFT[r][c]
        right = CB_ROOM[r][c]
        main_w = left + FRAME_W + right
        strip_w = COL_W[c] - main_w
        text_x = max(PROB_OFF[r][c] - right, 9)
        figs.append(make_panel(pts, ix, iy, bx, sx, sy, k, main_w, ROW_H[r], left, right))
        figs.append(make_prob_strip(strip_w, ROW_H[r], text_x))
    rows.append(row(*figs, spacing=0))
layout = column(*rows, spacing=0)

open("out.html", "w").write(file_html(layout, INLINE))
